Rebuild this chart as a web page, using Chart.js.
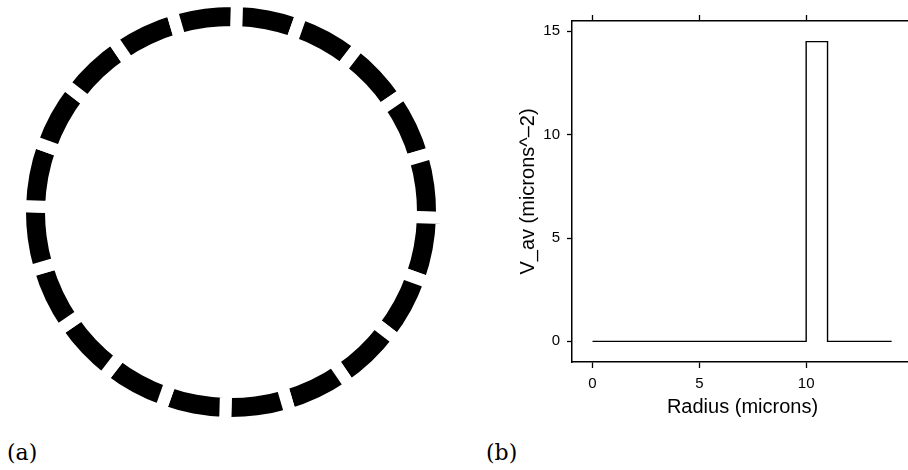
<!DOCTYPE html>
<html>
<head>
<meta charset="utf-8">
<script src="https://cdn.jsdelivr.net/npm/chart.js@4"></script>
<style>
  html, body { margin: 0; padding: 0; background: #fff; overflow: hidden; width: 908px; height: 470px; }
  #wrap { position: relative; width: 908px; height: 470px; overflow: hidden; }
  canvas { position: absolute; }
  #ring { left: 20px; top: 1px; }
  #profile { left: 500px; top: 0px; }
  .panel-tag { position: absolute; font-family: "DejaVu Serif", serif; font-size: 22px; line-height: 22px; color: #000; }
</style>
</head>
<body>
<div id="wrap">
  <canvas id="ring" width="422" height="422"></canvas>
  <canvas id="profile" width="413" height="430"></canvas>
  <div class="panel-tag" style="left:7px; top:442px;">(a)</div>
  <div class="panel-tag" style="left:486px; top:442px;">(b)</div>
</div>
<script>
// ── data ──────────────────────────────────────────────
// (a) ring: 20 equal segments
const segments = [1, 1, 1, 1, 1, 1, 1, 1, 1, 1, 1, 1, 1, 1, 1, 1, 1, 1, 1, 1];
// (b) averaged potential vs radius (step profile)
const radius = [0, 10, 10, 11, 11, 14];
const vAv = [0, 0, 14.5, 14.5, 0, 0];
const xTicks = [0, 5, 10];
const yTicks = [0, 5, 10, 15];

const SANS = '"Liberation Sans", Arial, Helvetica, sans-serif';

// ── (a) segmented ring ────────────────────────────────
// white 12px outline (centered on each arc edge) opens the gaps between segments
new Chart(document.getElementById('ring'), {
  type: 'doughnut',
  data: {
    labels: segments.map((_, i) => 'segment ' + (i + 1)),
    datasets: [{
      data: segments,
      backgroundColor: '#000',
      borderColor: '#fff',
      borderWidth: 12,
      borderAlign: 'center',
      borderJoinStyle: 'miter',
      hoverOffset: 0,
    }]
  },
  options: {
    responsive: false,
    animation: false,
    events: [],
    rotation: 1.6,
    radius: 211,
    cutout: '85.3%',
    plugins: { legend: { display: false }, tooltip: { enabled: false } },
  }
});

// ── (b) V_av profile ─────────────────────────────────
function fixedTicks(values) {
  return scale => { scale.ticks = values.map(v => ({ value: v })); };
}

const tickGrid = (len) => ({
  drawOnChartArea: false,
  drawTicks: true,
  tickLength: len,
  tickColor: '#000',
  tickWidth: 1.3,
});
const axisBorder = { display: true, color: '#000', width: 1.5 };

new Chart(document.getElementById('profile'), {
  type: 'line',
  data: {
    datasets: [{
      data: radius.map((r, i) => ({ x: r, y: vAv[i] })),
      borderColor: '#000',
      borderWidth: 1.4,
      pointRadius: 0,
      fill: false,
      tension: 0,
      xAxisID: 'x',
      yAxisID: 'y',
    }]
  },
  options: {
    responsive: false,
    animation: false,
    events: [],
    layout: { padding: { left: 0, top: 15, right: 0, bottom: 0 } },
    plugins: { legend: { display: false }, tooltip: { enabled: false } },
    scales: {
      x: {
        type: 'linear',
        position: 'bottom',
        min: -0.96,
        max: 15,
        afterBuildTicks: fixedTicks(xTicks),
        afterFit: s => { s.height = 68; },
        grid: tickGrid(6),
        border: axisBorder,
        ticks: { color: '#000', font: { family: SANS, size: 15 }, padding: 7, maxRotation: 0 },
        title: {
          display: true, text: 'Radius (microns)', color: '#000',
          font: { family: SANS, size: 20 }, padding: { top: 0, bottom: 10.5 },
        },
      },
      xTop: {
        type: 'linear',
        position: 'top',
        min: -0.96,
        max: 15,
        afterBuildTicks: fixedTicks(xTicks),
        afterFit: s => { s.height = 6; },
        grid: tickGrid(6),
        border: axisBorder,
        ticks: { display: false },
      },
      y: {
        type: 'linear',
        position: 'left',
        min: -1,
        max: 15.5,
        afterBuildTicks: fixedTicks(yTicks),
        afterFit: s => { s.width = 72; },
        grid: tickGrid(5),
        border: axisBorder,
        ticks: { color: '#000', font: { family: SANS, size: 15 }, padding: 7 },
        title: {
          display: true, text: 'V_av (microns^–2)', color: '#000',
          font: { family: SANS, size: 20 }, padding: { top: 16.3, bottom: 0 },
        },
      },
    },
  }
});
</script>
</body>
</html>
